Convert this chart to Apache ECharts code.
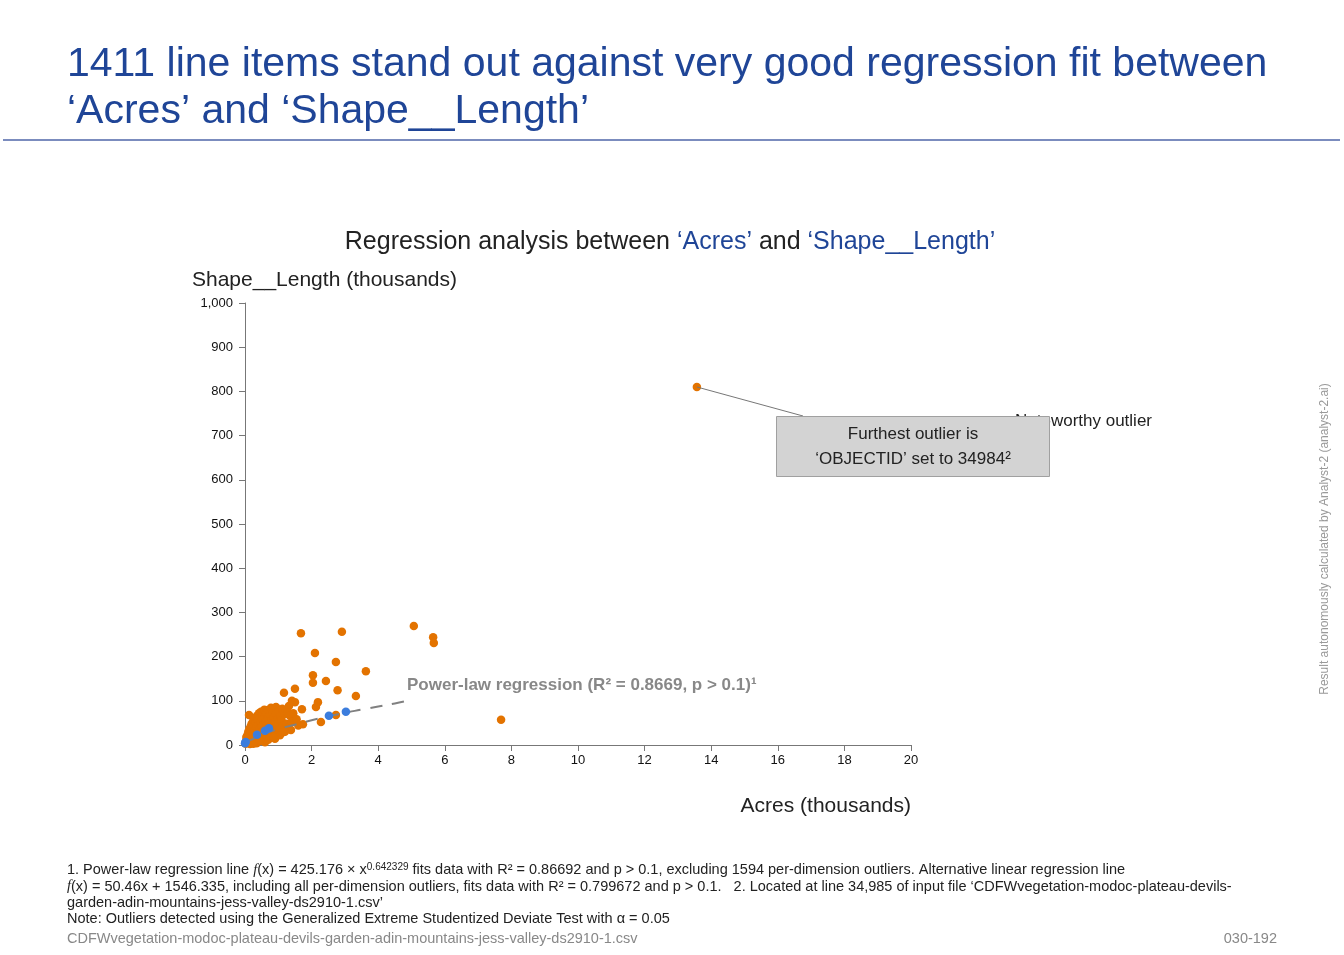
<!DOCTYPE html>
<html><head><meta charset="utf-8">
<script src="https://cdn.jsdelivr.net/npm/echarts@6/dist/echarts.min.js"></script>
<style>html,body{margin:0;padding:0;background:#fff}#c{width:1344px;height:955px}</style>
</head><body><div id="c"></div>
<script>
// Values in thousands (Acres, Shape__Length)
const furthestOutlier = [13.57, 810];
const outlierPoints = [
  [13.57,810],[5.07,269],[5.65,244],[5.67,231],[7.69,57],[1.68,253],[2.91,256],[2.1,208],
  [2.73,188],[3.63,167],[2.04,158],[2.04,141],[2.43,145],[1.5,127],[2.78,124],[3.33,111],
  [1.17,118],[2.19,97],[2.13,86],[2.73,68],[2.28,52],[1.71,81],[1.74,47],[1.41,100],
  [1.5,97],[1.32,88],[1.47,61],[1.38,34],[0.12,68],[1.14,29],
  [0.02,3],[0.03,8],[0.05,12],[0.04,18],[0.06,5],[0.08,15],[0.08,24],[0.1,10],[0.1,30],
  [0.12,20],[0.13,36],[0.14,6],[0.15,14],[0.15,26],[0.17,42],[0.18,32],[0.2,18],[0.2,48],
  [0.22,10],[0.22,38],[0.24,28],[0.25,55],[0.26,22],[0.28,44],[0.3,14],[0.3,34],[0.3,60],
  [0.32,50],[0.34,26],[0.35,40],[0.36,66],[0.38,18],[0.38,56],[0.4,30],[0.4,46],[0.42,72],
  [0.44,36],[0.45,9],[0.45,62],[0.47,52],[0.48,24],[0.48,75],[0.5,42],[0.52,32],[0.52,68],
  [0.54,58],[0.55,14],[0.56,46],[0.58,80],[0.6,38],[0.6,64],[0.62,22],[0.63,54],[0.65,72],
  [0.66,44],[0.68,30],[0.69,79],[0.7,60],[0.72,50],[0.74,16],[0.75,68],[0.76,38],[0.78,84],
  [0.8,56],[0.8,26],[0.82,46],[0.84,74],[0.86,62],[0.88,34],[0.9,52],[0.93,86],[0.93,70],
  [0.95,42],[0.96,22],[0.98,60],[1.0,76],[1.02,50],[1.05,36],[1.06,66],[1.1,56],[1.12,82],
  [1.15,44],[1.2,70],[1.23,79],[1.25,48],[1.28,74],[1.3,40],[1.35,66],[1.4,52],[1.45,72],
  [1.55,58],[1.6,44],[0.35,4],[0.6,6],[0.25,3],[0.15,2],[0.5,20],[0.7,12],[0.9,14],
  [1.05,22],[1.2,30],[0.45,10],[0.85,18]
];
const inlierPoints = [[0.0,4],[0.02,7],[0.36,23],[0.6,32],[0.72,38],[2.52,66],[3.03,75]];
const regressionLine = [[0,0],[0.1,8],[0.25,14],[0.5,23],[1,36],[1.5,46],[2,56],[2.5,65],[3,73],[3.5,80],[4,87],[4.5,94],[4.88,100]];
const xAxisRange = [0, 20, 2];
const yAxisRange = [0, 1000, 100];

const FONT = '"Liberation Sans", Arial, sans-serif';
const chart = echarts.init(document.getElementById('c'), null, {renderer: 'canvas'});

function graphics(linePts) {
  const g = [
    {type:'text', left:67, top:41, style:{text:'1411 line items stand out against very good regression fit between\n‘Acres’ and ‘Shape__Length’', font:'41px '+FONT, fill:'#1f4597', lineHeight:47}},
    {type:'line', shape:{x1:3,y1:140,x2:1340,y2:140}, style:{stroke:'#4f66a8', lineWidth:1.5}},
    {type:'text', x:670, y:242, style:{
      text:'{a|Regression analysis between }{b|‘Acres’}{a| and }{b|‘Shape__Length’}',
      align:'center', verticalAlign:'middle',
      rich:{a:{font:'25px '+FONT, fill:'#222'}, b:{font:'25px '+FONT, fill:'#1f4597'}}}},
    {type:'text', left:192, top:270, style:{text:'Shape__Length (thousands)', font:'21px '+FONT, fill:'#222'}},
    {type:'text', x:911, y:806, style:{text:'Acres (thousands)', font:'21px '+FONT, fill:'#222', align:'right', verticalAlign:'middle'}},
    {type:'text', left:407, top:677, style:{text:'Power-law regression (R² = 0.8669, p > 0.1)¹', font:'bold 17px '+FONT, fill:'#888'}},
    {type:'text', left:1015, top:413, style:{text:'Noteworthy outlier', font:'17px '+FONT, fill:'#222'}},
    {type:'rect', shape:{x:776.5,y:416.5,width:273,height:60}, style:{fill:'#d3d3d3', stroke:'#a0a0a0', lineWidth:1}, z:10},
    {type:'text', x:913, y:434, z:11, style:{text:'Furthest outlier is', font:'17px '+FONT, fill:'#222', align:'center', verticalAlign:'middle'}},
    {type:'text', x:913, y:459, z:11, style:{text:'‘OBJECTID’ set to 34984²', font:'17px '+FONT, fill:'#222', align:'center', verticalAlign:'middle'}},
    {type:'text', x:1325, y:539, rotation:Math.PI/2, style:{text:'Result autonomously calculated by Analyst-2 (analyst-2.ai)', font:'12px '+FONT, fill:'#999', align:'center', verticalAlign:'middle'}},
    {type:'text', left:67, top:862, style:{
      text:'{t|1. Power-law regression line }{i|f}{t|(x) = 425.176 × x}{s|0.642329}{t| fits data with R² = 0.86692 and p > 0.1, excluding 1594 per-dimension outliers. Alternative linear regression line}',
      rich:{t:{font:'14.5px '+FONT, fill:'#222'}, i:{font:'italic 14.5px "Liberation Serif", serif', fill:'#222'}, s:{font:'10px '+FONT, fill:'#222', verticalAlign:'top', padding:[0,0,6,0]}}}},
    {type:'text', left:67, top:879, style:{
      text:'{i|f}{t|(x) = 50.46x + 1546.335, including all per-dimension outliers, fits data with R² = 0.799672 and p > 0.1.   2. Located at line 34,985 of input file ‘CDFWvegetation-modoc-plateau-devils-}',
      rich:{t:{font:'14.5px '+FONT, fill:'#222'}, i:{font:'italic 14.5px "Liberation Serif", serif', fill:'#222'}}}},
    {type:'text', left:67, top:895, style:{text:'garden-adin-mountains-jess-valley-ds2910-1.csv’', font:'14.5px '+FONT, fill:'#222'}},
    {type:'text', left:67, top:911, style:{text:'Note: Outliers detected using the Generalized Extreme Studentized Deviate Test with α = 0.05', font:'14.5px '+FONT, fill:'#222'}},
    {type:'text', left:67, top:931, style:{text:'CDFWvegetation-modoc-plateau-devils-garden-adin-mountains-jess-valley-ds2910-1.csv', font:'14.5px '+FONT, fill:'#888'}},
    {type:'text', x:1277, y:939, style:{text:'030-192', font:'14.5px '+FONT, fill:'#888', align:'right', verticalAlign:'middle'}}
  ];
  if (linePts) {
    g.push({type:'line', z:5, shape:{x1:linePts[0][0], y1:linePts[0][1], x2:linePts[1][0], y2:linePts[1][1]}, style:{stroke:'#777', lineWidth:1}});
  }
  return g;
}

const axisCommon = {
  axisLine:{show:true, lineStyle:{color:'#777', width:1}},
  axisTick:{show:true, length:6, lineStyle:{color:'#777'}},
  splitLine:{show:false},
  axisLabel:{color:'#111', fontSize:13, fontFamily:FONT}
};

chart.setOption({
  animation:false,
  backgroundColor:'#fff',
  grid:{left:245, right:433, top:303, bottom:210, containLabel:false},
  xAxis:Object.assign({type:'value', min:xAxisRange[0], max:xAxisRange[1], interval:xAxisRange[2]}, axisCommon,
    {axisLabel:Object.assign({}, axisCommon.axisLabel, {margin:9})}),
  yAxis:Object.assign({type:'value', min:yAxisRange[0], max:yAxisRange[1], interval:yAxisRange[2]}, axisCommon,
    {axisLabel:Object.assign({}, axisCommon.axisLabel, {margin:12, formatter:v => v.toLocaleString('en-US')})}),
  series:[
    {type:'scatter', data:outlierPoints, symbolSize:8.5, itemStyle:{color:'#e37300', opacity:1}, z:2},
    {type:'line', data:regressionLine, showSymbol:false, smooth:true, lineStyle:{color:'#808080', width:2, type:[12,10]}, z:3},
    {type:'scatter', data:inlierPoints, symbolSize:8.5, itemStyle:{color:'#3b7ddd', opacity:1}, z:4}
  ],
  graphic:graphics(null)
});

const p = chart.convertToPixel({gridIndex:0}, furthestOutlier);
chart.setOption({graphic:graphics([[p[0], p[1]], [803, 416]])}, {replaceMerge:['graphic']});
</script>
</body></html>
